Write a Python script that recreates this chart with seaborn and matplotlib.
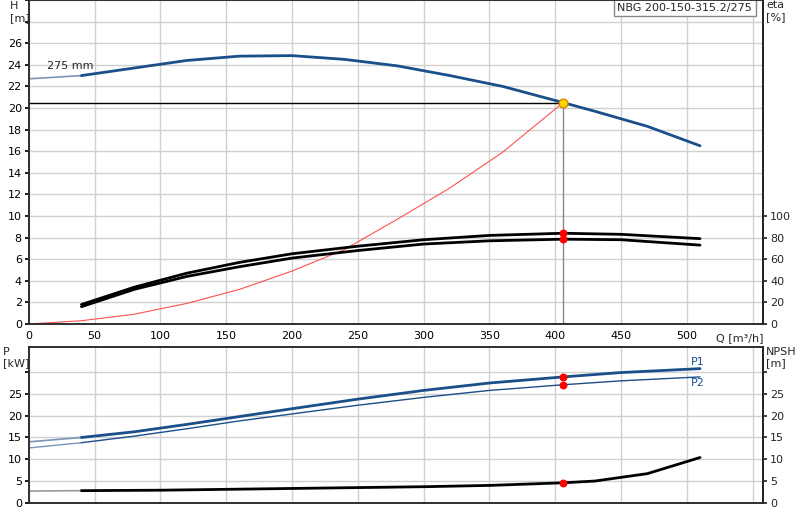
"""Pump curve chart NBG 200-150-315.2/275."""

import matplotlib.pyplot as plt
import numpy as np
import seaborn as sns

# Head curve
q_head = [0, 40, 80, 120, 160, 200, 240, 280, 320, 360, 406, 430, 470, 510]
h_head = [22.7, 23.0, 23.7, 24.4, 24.8, 24.85, 24.5, 23.9, 23.0, 22.0, 20.5, 19.7, 18.3, 16.5]
# System curve
q_sys = [0, 40, 80, 120, 160, 200, 240, 280, 320, 360, 406]
h_sys = [0, 0.3, 0.9, 1.9, 3.2, 4.9, 6.9, 9.7, 12.6, 15.9, 20.5]
# Efficiency curves (%)
q_eta = [40, 80, 120, 160, 200, 250, 300, 350, 406, 450, 510]
eta_1 = [18, 34, 47, 57, 65, 72, 78, 82, 84, 83, 79]
eta_2 = [16, 32, 44, 53, 61, 68, 74, 77, 78.5, 78, 73]
# Power and NPSH
q_pow = [0, 40, 80, 120, 160, 200, 250, 300, 350, 406, 450, 510]
p1 = [14.0, 15.0, 16.3, 18.0, 19.8, 21.6, 23.8, 25.8, 27.5, 28.9, 29.9, 30.8]
p2 = [12.6, 13.8, 15.3, 17.0, 18.8, 20.4, 22.4, 24.2, 25.8, 27.1, 28.0, 28.9]
q_npsh = [0, 40, 100, 150, 200, 250, 300, 350, 406, 430, 470, 510]
npsh = [2.7, 2.8, 2.9, 3.1, 3.3, 3.5, 3.7, 4.0, 4.6, 5.0, 6.7, 10.4]

q_op, h_op = 406, 20.5
eta_op = [84, 78.5]
p_op = [28.9, 27.1]
npsh_op = 4.6

BLUE = "#1a4f8a"

sns.set_theme(style="white")
plt.rcParams["font.family"] = ["DejaVu Sans"]
plt.rcParams["font.size"] = 8

fig = plt.figure(figsize=(8, 5.2), dpi=100)
ax = fig.add_axes([0.036, 0.377, 0.918, 0.623])
bx = fig.add_axes([0.036, 0.033, 0.918, 0.300])

for a in (ax, bx):
    a.set_xlim(0, 558)
    a.set_xticks(np.arange(0, 551, 50))
    a.grid(True, color="#d0d0d0", linewidth=1)
    for s in a.spines.values():
        s.set_color("#888888")
    a.spines["right"].set_color("black")
    a.tick_params(axis="both", labelsize=8, length=3, pad=2, colors="black")

# top panel
ax.set_ylim(0, 30)
ax.set_yticks(np.arange(0, 31, 2))
ax.set_yticklabels([str(v) if v <= 26 else "" for v in range(0, 31, 2)])
ax.set_xticklabels([str(v) for v in range(0, 501, 50)] + [""])
sns.lineplot(x=q_head[:2], y=h_head[:2], color="#7a93b8", lw=1.2, ax=ax)
sns.lineplot(x=q_head[1:], y=h_head[1:], color=BLUE, lw=2, ax=ax)
sns.lineplot(x=q_sys, y=h_sys, color="#ff5050", lw=0.8, ax=ax)
sns.lineplot(x=q_eta, y=np.array(eta_1) / 10, color="black", lw=2, ax=ax)
sns.lineplot(x=q_eta, y=np.array(eta_2) / 10, color="black", lw=2, ax=ax)
ax.plot([0, q_op], [h_op, h_op], color="black", lw=1)
ax.plot([q_op, q_op], [0, h_op], color="#888888", lw=1)
ax.scatter([q_op, q_op], np.array(eta_op) / 10, color="red", s=22, zorder=5)
ax.scatter([q_op], [h_op], color="#ffd700", edgecolor="#e08000", s=40, zorder=6)
ax.text(14, 23.6, "275 mm", fontsize=8)
fig.text(0.012, 0.998, "H\n[m]", ha="left", va="top", fontsize=8)
ax.text(1.004, 1.0, "eta\n[%]", transform=ax.transAxes, ha="left", va="top", fontsize=8)
ax.text(0.985, 0.992, "NBG 200-150-315.2/275", transform=ax.transAxes, ha="right", va="top",
        fontsize=8, bbox=dict(facecolor="white", edgecolor="#888888", boxstyle="square,pad=0.3"))
ax.text(1.0, -0.045, "Q [m³/h]", transform=ax.transAxes, ha="right", va="center", fontsize=8)
ax2 = ax.twinx()
ax2.set_ylim(0, 300)
ax2.set_yticks(np.arange(0, 101, 20))
ax2.tick_params(axis="y", labelsize=8, length=3, pad=2)
ax2.grid(False)

# bottom panel
bx.set_ylim(0, 35.8)
bx.set_yticks(np.arange(0, 31, 5))
bx.set_yticklabels(["0", "5", "10", "15", "20", "25", ""])
bx.set_xticklabels([])
sns.lineplot(x=q_pow[:2], y=p1[:2], color="#7a93b8", lw=1.2, ax=bx)
sns.lineplot(x=q_pow[1:], y=p1[1:], color=BLUE, lw=2, ax=bx)
sns.lineplot(x=q_pow[:2], y=p2[:2], color="#7a93b8", lw=1, ax=bx)
sns.lineplot(x=q_pow[1:], y=p2[1:], color=BLUE, lw=1, ax=bx)
sns.lineplot(x=q_npsh[:2], y=npsh[:2], color="#999999", lw=1.2, ax=bx)
sns.lineplot(x=q_npsh[1:], y=npsh[1:], color="black", lw=2, ax=bx)
bx.scatter([q_op] * 3, p_op + [npsh_op], color="red", s=22, zorder=5)
bx.text(503, 31.6, "P1", color=BLUE, fontsize=8)
bx.text(503, 26.8, "P2", color=BLUE, fontsize=8)
fig.text(0.004, 0.333, "P\n[kW]", ha="left", va="top", fontsize=8)
bx.text(1.004, 1.0, "NPSH\n[m]", transform=bx.transAxes, ha="left", va="top", fontsize=8)
bx2 = bx.twinx()
bx2.set_ylim(0, 35.8)
bx2.set_yticks(np.arange(0, 31, 5))
bx2.set_yticklabels(["0", "5", "10", "15", "20", "25", ""])
bx2.tick_params(axis="y", labelsize=8, length=3, pad=2)
bx2.grid(False)

fig.savefig("out.png", dpi=100, facecolor="white")
